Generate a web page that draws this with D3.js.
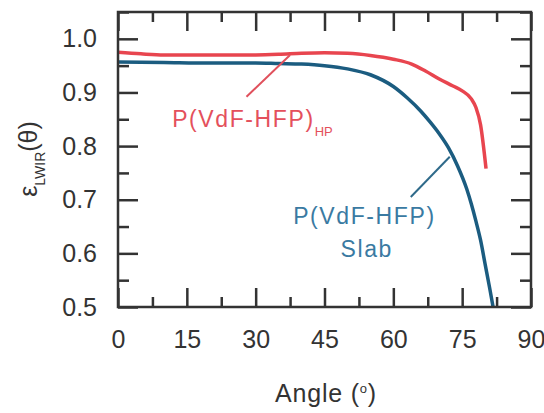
<!DOCTYPE html>
<html lang="en">
<head>
<meta charset="utf-8">
<title>Emissivity vs angle</title>
<script src="https://cdn.jsdelivr.net/npm/d3@7"></script>
<style>
body { margin: 0; background: #fff; }
svg { font-family: "Liberation Sans", Arial, sans-serif; }
.axis path { display: none; }
.axis line { stroke: #333; stroke-width: 2.5; }
.axis text { fill: #333; font-size: 25px; }
</style>
</head>
<body>
<script>
var w = 544, h = 413;
var margin = {left: 118, top: 12, right: 13, bottom: 106};

// data
var hpAngle = [0, 5, 10, 15, 20, 25, 30, 35, 40, 45, 50, 55, 60, 64, 67, 70, 73, 75, 77, 78, 79, 80.2];
var hpValue = [0.975, 0.972, 0.970, 0.970, 0.970, 0.970, 0.970, 0.971, 0.973, 0.974, 0.973, 0.969, 0.962, 0.953, 0.940, 0.925, 0.912, 0.903, 0.888, 0.872, 0.840, 0.758];
var slabAngle = [0, 10, 20, 30, 35, 40, 45, 50, 55, 60, 63, 66, 68, 70, 72, 74, 76, 77, 78, 79, 80, 81, 81.8];
var slabValue = [0.957, 0.956, 0.955, 0.955, 0.954, 0.953, 0.950, 0.944, 0.933, 0.911, 0.890, 0.865, 0.845, 0.823, 0.797, 0.763, 0.720, 0.692, 0.660, 0.625, 0.580, 0.535, 0.497];
var xTicks = [0, 15, 30, 45, 60, 75, 90];
var xMinor = [7.5, 22.5, 37.5, 52.5, 67.5, 82.5];
var yTicks = [0.5, 0.6, 0.7, 0.8, 0.9, 1.0];
var yMinor = [0.55, 0.65, 0.75, 0.85, 0.95, 1.05];

var iw = w - margin.left - margin.right;
var ih = h - margin.top - margin.bottom;

var svg = d3.select("body").append("svg")
    .attr("width", w)
    .attr("height", h);

var g = svg.append("g")
    .attr("transform", "translate(" + margin.left + "," + margin.top + ")");

var x = d3.scaleLinear().domain([0, 90]).range([0, iw]);
var y = d3.scaleLinear().domain([0.5, 1.05]).range([ih, 0]);

g.append("clipPath").attr("id", "plot")
  .append("rect").attr("width", iw).attr("height", ih);

// axes, ticks pointing inward
g.append("g").attr("class", "axis")
  .attr("transform", "translate(0," + ih + ")")
  .call(d3.axisBottom(x).tickValues(xTicks).tickSize(-19).tickPadding(23).tickFormat(d3.format("d")));
g.append("g").attr("class", "axis")
  .attr("transform", "translate(0," + ih + ")")
  .call(d3.axisBottom(x).tickValues(xMinor).tickSize(-10).tickFormat(""));
g.append("g").attr("class", "axis")
  .call(d3.axisTop(x).tickValues(xTicks).tickSize(-19).tickFormat(""));
g.append("g").attr("class", "axis")
  .call(d3.axisTop(x).tickValues(xMinor).tickSize(-10).tickFormat(""));

g.append("g").attr("class", "axis")
  .call(d3.axisLeft(y).tickValues(yTicks).tickSize(-20).tickPadding(21).tickFormat(d3.format(".1f")));
g.append("g").attr("class", "axis")
  .call(d3.axisLeft(y).tickValues(yMinor).tickSize(-11).tickFormat(""));
g.append("g").attr("class", "axis")
  .attr("transform", "translate(" + iw + ",0)")
  .call(d3.axisRight(y).tickValues(yTicks).tickSize(-20).tickFormat(""));
g.append("g").attr("class", "axis")
  .attr("transform", "translate(" + iw + ",0)")
  .call(d3.axisRight(y).tickValues(yMinor).tickSize(-11).tickFormat(""));

var line = d3.line()
    .x(function(d) { return x(d[0]); })
    .y(function(d) { return y(d[1]); })
    .curve(d3.curveMonotoneX);

g.append("path")
  .datum(d3.zip(slabAngle, slabValue))
  .attr("clip-path", "url(#plot)")
  .attr("d", line)
  .attr("fill", "none")
  .attr("stroke", "#1b5c80")
  .attr("stroke-width", 3.5);

g.append("path")
  .datum(d3.zip(hpAngle, hpValue))
  .attr("clip-path", "url(#plot)")
  .attr("d", line)
  .attr("fill", "none")
  .attr("stroke", "#e8454f")
  .attr("stroke-width", 3.5);

// frame
g.append("rect")
  .attr("width", iw).attr("height", ih)
  .attr("fill", "none")
  .attr("stroke", "#333")
  .attr("stroke-width", 2.5);

// annotations
g.append("line")
  .attr("x1", x(28)).attr("y1", y(0.892))
  .attr("x2", x(37.5)).attr("y2", y(0.970))
  .attr("stroke", "#e0505c").attr("stroke-width", 2);
var t1 = g.append("text")
  .attr("x", x(11.8)).attr("y", y(0.836))
  .attr("fill", "#e4505c")
  .style("font-size", "23px")
  .style("letter-spacing", "1.6px");
t1.append("tspan").text("P(VdF-HFP)");
t1.append("tspan").attr("dy", 9).style("font-size", "13px").style("letter-spacing", "0px").text("HP");

g.append("line")
  .attr("x1", x(63.8)).attr("y1", y(0.705))
  .attr("x2", x(72.3)).attr("y2", y(0.780))
  .attr("stroke", "#2f6a8a").attr("stroke-width", 2);
g.append("text")
  .attr("x", x(53.7)).attr("y", y(0.655))
  .attr("text-anchor", "middle")
  .attr("fill", "#3a7aa2")
  .style("font-size", "23px")
  .style("letter-spacing", "1.6px")
  .text("P(VdF-HFP)");
g.append("text")
  .attr("x", x(54.2)).attr("y", y(0.593))
  .attr("text-anchor", "middle")
  .attr("fill", "#3a7aa2")
  .style("font-size", "23px")
  .style("letter-spacing", "1.6px")
  .text("Slab");

// axis titles
var xt = svg.append("text")
  .attr("x", 326).attr("y", 402)
  .attr("text-anchor", "middle")
  .attr("fill", "#333")
  .style("font-size", "25px")
  .style("letter-spacing", "0.8px");
xt.append("tspan").text("Angle (");
xt.append("tspan").attr("dy", -9).style("font-size", "13px").text("o");
xt.append("tspan").attr("dy", 9).text(")");

var yt = svg.append("text")
  .attr("transform", "translate(37,159) rotate(-90)")
  .attr("text-anchor", "middle")
  .attr("fill", "#333")
  .style("font-size", "25px");
yt.append("tspan").text("\u03b5");
yt.append("tspan").attr("dy", 8).style("font-size", "14px").text("LWIR");
yt.append("tspan").attr("dy", -8).text("(\u03b8)");
</script>
</body>
</html>
